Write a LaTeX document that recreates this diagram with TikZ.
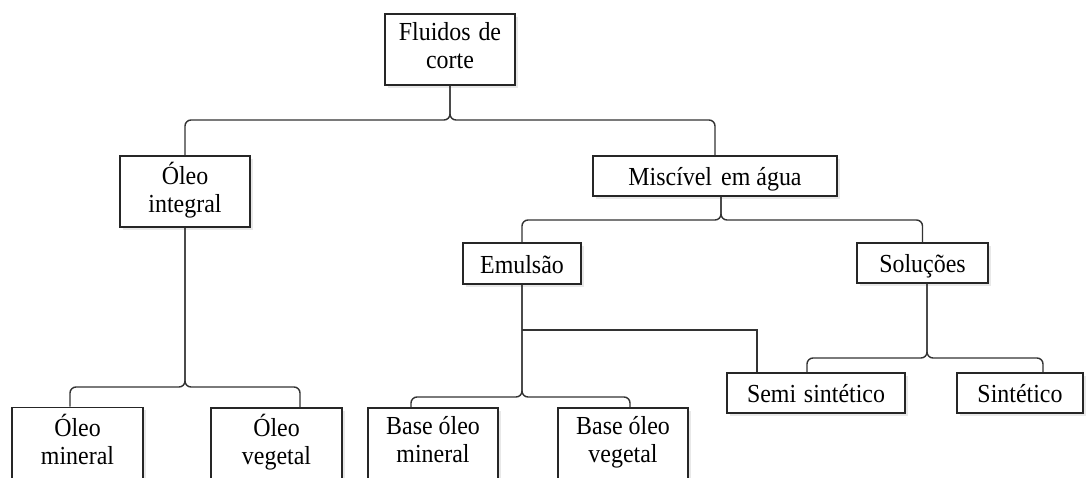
\documentclass[tikz,border=0pt]{standalone}
\usepackage{fontspec}
\setmainfont{Liberation Serif}[FakeStretch=0.92]
\usetikzlibrary{shadows,calc}
\newcommand{\tallstrut}{\rule[-8pt]{0pt}{24pt}}
\tikzset{
  box/.style={draw=black!85, line width=1.6pt, fill=white, inner sep=0pt,
    align=center, font=\fontsize{26}{28}\selectfont,
    drop shadow={opacity=0.18, shadow xshift=2.5pt, shadow yshift=-2.5pt}},
  onebox/.style={box, text height=19pt, text depth=0pt},
  link/.style={draw=black!80, line width=1.4pt, rounded corners=6pt},
  sharp/.style={draw=black!80, line width=1.4pt},
}
\begin{document}
\begin{tikzpicture}[x=1pt,y=-1pt]
\useasboundingbox (0,0) rectangle (1087,477);
\fill[white] (0,0) rectangle (1087,477);
\clip (0,0) rectangle (1087,477);

% nodes
\node[box, minimum width=130pt, minimum height=71pt] (root) at (450,49.5) {\tallstrut Fluidos\hspace{0.3em}de\\corte\tallstrut};
\node[box, minimum width=130pt, minimum height=71pt] (oi) at (185,191.5) {\tallstrut Óleo\\integral\tallstrut};
\node[onebox, minimum width=244pt, minimum height=40pt] (mis) at (715,176) {Miscível\hspace{0.35em}em água};
\node[onebox, minimum width=118pt, minimum height=41pt] (emu) at (522,263.5) {Emulsão};
\node[onebox, minimum width=131pt, minimum height=40pt] (sol) at (922.5,263) {Soluções};
\node[box, minimum width=131pt, minimum height=71pt] (om) at (77.5,443) {\tallstrut Óleo\\mineral\tallstrut};
\node[box, minimum width=131pt, minimum height=71pt] (ov) at (276.5,443.5) {\tallstrut Óleo\\vegetal\tallstrut};
\node[box, minimum width=130pt, minimum height=71pt] (bom) at (433,443.5) {\tallstrut Base óleo\\mineral\tallstrut};
\node[box, minimum width=130pt, minimum height=71pt] (bov) at (623,443.5) {\tallstrut Base óleo\\vegetal\tallstrut};
\node[onebox, minimum width=178pt, minimum height=40pt] (semi) at (816,393) {Semi\hspace{0.3em}sintético};
\node[onebox, minimum width=126pt, minimum height=40pt] (sint) at (1020,393) {Sintético};

% brace levels
\coordinate (L1) at (0,120);
\coordinate (L2) at (0,387);
\coordinate (L3) at (0,220);
\coordinate (L4) at (0,397);
\coordinate (L5) at (0,330);
\coordinate (L6) at (0,358);

% shifted connection points
\coordinate (omin) at ([xshift=-7.5pt]om.north);
\coordinate (ovin) at ([xshift=23.5pt]ov.north);
\coordinate (misout) at ([xshift=6pt]mis.south);
\coordinate (bomin) at ([xshift=-22pt]bom.north);
\coordinate (bovin) at ([xshift=7pt]bov.north);
\coordinate (semiin) at ([xshift=-59pt]semi.north);
\coordinate (solout) at ([xshift=4.5pt]sol.south);
\coordinate (semiin2) at ([xshift=-9pt]semi.north);
\coordinate (sintin) at ([xshift=23pt]sint.north);

% connectors
\draw[link] (root.south) -- (root.south |- L1) -- (oi.north |- L1) -- (oi.north);
\draw[link] (root.south) -- (root.south |- L1) -- (mis.north |- L1) -- (mis.north);

\draw[link] (oi.south) -- (oi.south |- L2) -- (omin |- L2) -- (omin);
\draw[link] (oi.south) -- (oi.south |- L2) -- (ovin |- L2) -- (ovin);

\draw[link] (misout) -- (misout |- L3) -- (emu.north |- L3) -- (emu.north);
\draw[link] (misout) -- (misout |- L3) -- (sol.north |- L3) -- (sol.north);

\draw[link] (emu.south) -- (emu.south |- L4) -- (bomin |- L4) -- (bomin);
\draw[link] (emu.south) -- (emu.south |- L4) -- (bovin |- L4) -- (bovin);
\draw[sharp] (emu.south |- L5) -- (semiin |- L5) -- (semiin);

\draw[link] (solout) -- (solout |- L6) -- (semiin2 |- L6) -- (semiin2);
\draw[link] (solout) -- (solout |- L6) -- (sintin |- L6) -- (sintin);
\end{tikzpicture}
\end{document}
